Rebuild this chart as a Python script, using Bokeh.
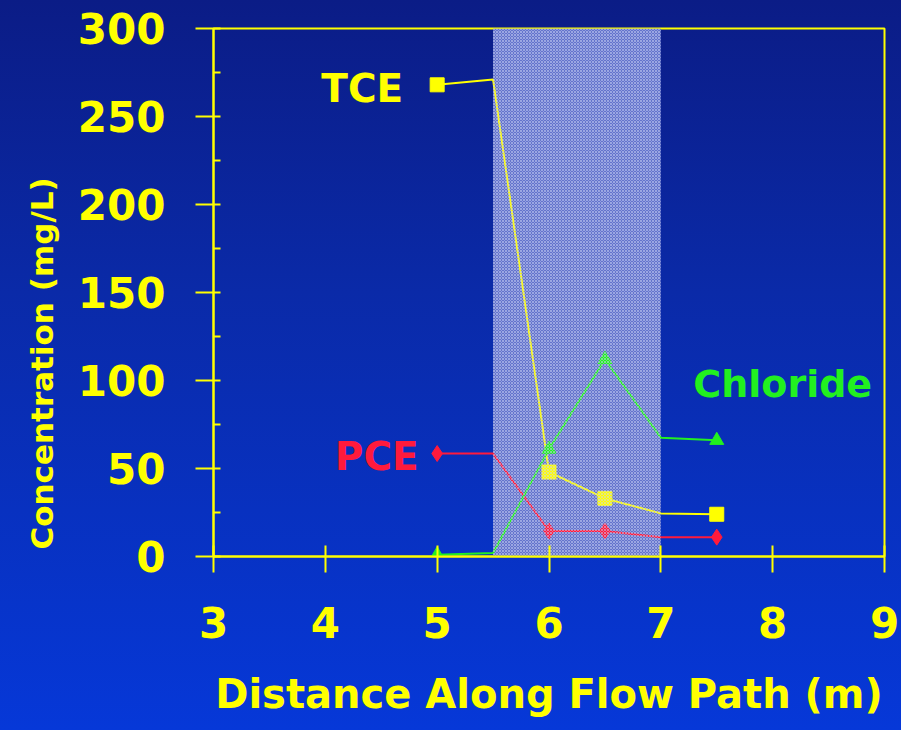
from bokeh.plotting import figure
from bokeh.models import ColumnDataSource, CDSView, IndexFilter, FixedTicker, Range1d, Title
from bokeh.core.properties import value
from bokeh.embed import file_html
from bokeh.resources import INLINE

# ---- data ----
distance = [5.0, 5.5, 6.0, 6.5, 7.0, 7.5]          # m along flow path
tce = [268, 271, 48, 33, 24.5, 24]                 # mg/L
pce = [58.5, 58.5, 14.5, 14.5, 11, 11]             # mg/L
chloride = [1, 2, 61, 112, 67.5, 66]               # mg/L
sample_index = [0, 2, 3, 5]                        # points that carry a marker
barrier_start = [5.5]
barrier_end = [7.0]
x_ticks = [3, 4, 5, 6, 7, 8, 9]
y_ticks = [0, 50, 100, 150, 200, 250, 300]
y_minor_ticks = [25, 75, 125, 175, 225, 275]

YELLOW = "#ffff00"
RED = "#ff1a3c"
GREEN = "#22f020"
FONT = "DejaVu Sans"

src = ColumnDataSource(dict(x=distance, tce=tce, pce=pce, cl=chloride))
view = CDSView(filter=IndexFilter(sample_index))

p = figure(width=901, height=730, output_backend="svg", toolbar_location=None,
           x_range=Range1d(3, 9), y_range=Range1d(0, 300),
           min_border_left=213, min_border_right=17, min_border_top=28, min_border_bottom=174)
p.styles = {"background": "linear-gradient(to bottom, #0b1c86 0%, #0a2aa8 40%, #0638d8 100%)"}
p.border_fill_alpha = 0
p.background_fill_alpha = 0
p.outline_line_color = YELLOW
p.outline_line_width = 2
p.grid.visible = False

# shaded barrier zone (base fill under the lines)
p.quad(left=barrier_start, right=barrier_end, bottom=[0], top=[300],
       fill_color="#6474cc", fill_alpha=1, line_color=None)

# lines and markers
p.line("x", "tce", source=src, color=YELLOW, line_width=2)
p.line("x", "pce", source=src, color=RED, line_width=2)
p.line("x", "cl", source=src, color=GREEN, line_width=2)
p.scatter("x", "tce", source=src, view=view, marker="square", size=14, color=YELLOW)
p.scatter("x", "pce", source=src, view=view, marker="diamond", size=16, color=RED)
p.scatter("x", "cl", source=src, view=view, marker="triangle", size=14, color=GREEN)

# fine screen pattern of the barrier zone drawn over the lines
p.quad(left=barrier_start, right=barrier_end, bottom=[0], top=[300],
       fill_alpha=0, line_color=None,
       hatch_pattern="diagonal_cross", hatch_color="#c8d0f4", hatch_alpha=0.55,
       hatch_scale=3, hatch_weight=1)

# series labels
p.text(x=[4.33], y=[266], text=["TCE"], text_color=YELLOW, text_font=value(FONT),
       text_font_style="bold", text_font_size="39px", text_align="center", text_baseline="middle")
p.text(x=[4.46], y=[57], text=["PCE"], text_color=RED, text_font=value(FONT),
       text_font_style="bold", text_font_size="39px", text_align="center", text_baseline="middle")
p.text(x=[8.09], y=[98], text=["Chloride"], text_color=GREEN, text_font=value(FONT),
       text_font_style="bold", text_font_size="38px", text_align="center", text_baseline="middle")

# axes
xa = p.xaxis[0]
xa.ticker = FixedTicker(ticks=x_ticks)
xa.axis_label = "Distance Along Flow Path (m)"
ya = p.yaxis[0]
ya.ticker = FixedTicker(ticks=y_ticks, minor_ticks=y_minor_ticks)

for ax in (xa, ya):
    ax.axis_line_color = YELLOW
    ax.axis_line_width = 2
    ax.major_tick_line_color = YELLOW
    ax.major_tick_line_width = 2
    ax.minor_tick_line_color = YELLOW
    ax.minor_tick_line_width = 2
    ax.major_label_text_color = YELLOW
    ax.major_label_text_font = FONT
    ax.major_label_text_font_style = "bold"
    ax.major_label_text_font_size = "42px"
    ax.axis_label_text_color = YELLOW
    ax.axis_label_text_font = FONT
    ax.axis_label_text_font_style = "bold"

xa.major_tick_in = 11
xa.major_tick_out = 16
xa.minor_tick_in = 0
xa.minor_tick_out = 0
xa.major_label_standoff = 34
xa.axis_label_text_font_size = "40px"
xa.axis_label_standoff = 30

ya.major_tick_in = 7
ya.major_tick_out = 18
ya.minor_tick_in = 7
ya.minor_tick_out = 0
ya.major_label_standoff = 30

# y-axis title as a side title, aligned toward the bottom as in the reference
p.add_layout(Title(text="Concentration (mg/L)", align="left", offset=7, standoff=30,
                   text_color=YELLOW, text_font=FONT, text_font_style="bold",
                   text_font_size="31px"), "left")

open("out.html", "w").write(file_html(p, INLINE))
